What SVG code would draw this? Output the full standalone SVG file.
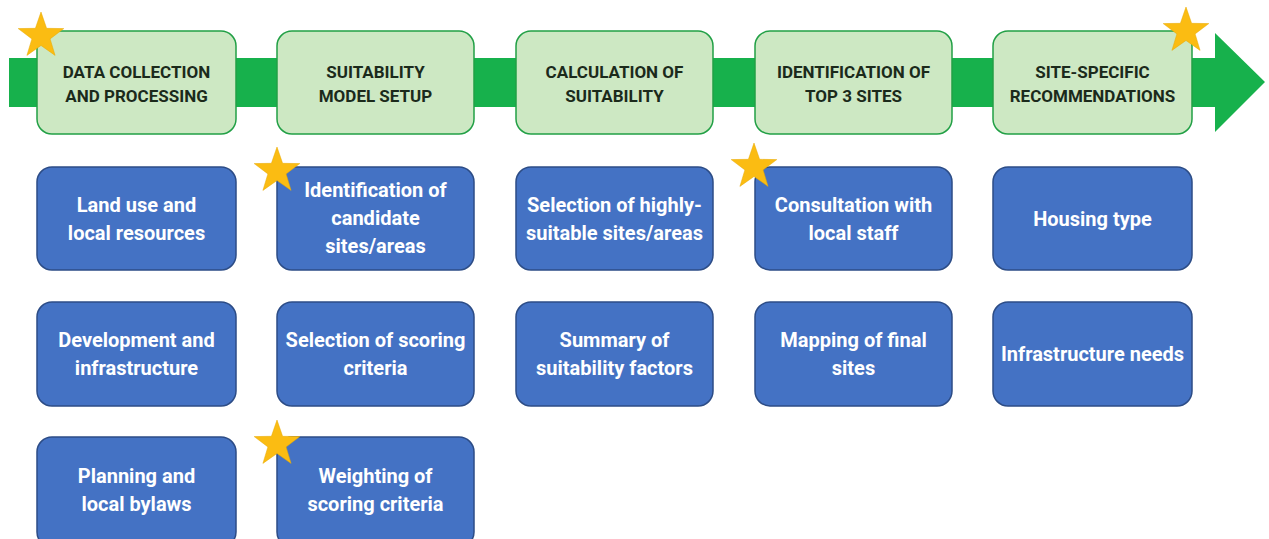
<svg xmlns="http://www.w3.org/2000/svg" width="1269" height="539" viewBox="0 0 1269 539">
<defs>
<style>
.hdr{fill:#cde8c3;stroke:#22a046;stroke-width:1.5}
.blu{fill:#4472c4;stroke:#2c4c86;stroke-width:1.5}
.ht{font-family:Roboto,"Liberation Sans",sans-serif;font-weight:700;font-size:17px;fill:#1b2a1b;text-anchor:middle}
.bt{font-family:Roboto,"Liberation Sans",sans-serif;font-weight:700;font-size:20px;fill:#ffffff;text-anchor:middle}
.star{fill:#fbbc12;stroke:#e6a800;stroke-width:0.5}
</style>
<polygon id="st" points="0,-24 5.6,-7.7 22.8,-7.4 9.1,2.9 14.1,19.4 0,9.5 -14.1,19.4 -9.1,2.9 -22.8,-7.4 -5.6,-7.7"/>
</defs>
<rect width="1269" height="539" fill="#ffffff"/>
<g id="connectors">
<polygon points="9,58 1215,58 1215,33 1265,82 1215,132 1215,107 9,107" fill="#17b14c"/>
</g>
<g id="h1"><rect class="hdr" x="37" y="31" width="199" height="103" rx="15"/><text class="ht" x="136.5" y="78">DATA COLLECTION</text><text class="ht" x="136.5" y="102">AND PROCESSING</text></g>
<g id="h2"><rect class="hdr" x="277" y="31" width="197" height="103" rx="15"/><text class="ht" x="375.5" y="78">SUITABILITY</text><text class="ht" x="375.5" y="102">MODEL SETUP</text></g>
<g id="h3"><rect class="hdr" x="516" y="31" width="197" height="103" rx="15"/><text class="ht" x="614.5" y="78">CALCULATION OF</text><text class="ht" x="614.5" y="102">SUITABILITY</text></g>
<g id="h4"><rect class="hdr" x="755" y="31" width="197" height="103" rx="15"/><text class="ht" x="853.5" y="78">IDENTIFICATION OF</text><text class="ht" x="853.5" y="102">TOP 3 SITES</text></g>
<g id="h5"><rect class="hdr" x="993" y="31" width="199" height="103" rx="15"/><text class="ht" x="1092.5" y="78">SITE-SPECIFIC</text><text class="ht" x="1092.5" y="102">RECOMMENDATIONS</text></g>

<g id="b11"><rect class="blu" x="37" y="167" width="199" height="103" rx="15"/><text class="bt" x="136.5" y="212">Land use and</text><text class="bt" x="136.5" y="240">local resources</text></g>
<g id="b12"><rect class="blu" x="37" y="302" width="199" height="104" rx="15"/><text class="bt" x="136.5" y="347">Development and</text><text class="bt" x="136.5" y="375">infrastructure</text></g>
<g id="b13"><rect class="blu" x="37" y="437" width="199" height="110" rx="15"/><text class="bt" x="136.5" y="483">Planning and</text><text class="bt" x="136.5" y="511">local bylaws</text></g>

<g id="b21"><rect class="blu" x="277" y="167" width="197" height="103" rx="15"/><text class="bt" x="375.5" y="197">Identification of</text><text class="bt" x="375.5" y="225">candidate</text><text class="bt" x="375.5" y="253">sites/areas</text></g>
<g id="b22"><rect class="blu" x="277" y="302" width="197" height="104" rx="15"/><text class="bt" x="375.5" y="347">Selection of scoring</text><text class="bt" x="375.5" y="375">criteria</text></g>
<g id="b23"><rect class="blu" x="277" y="437" width="197" height="110" rx="15"/><text class="bt" x="375.5" y="483">Weighting of</text><text class="bt" x="375.5" y="511">scoring criteria</text></g>

<g id="b31"><rect class="blu" x="516" y="167" width="197" height="103" rx="15"/><text class="bt" x="614.5" y="212">Selection of highly-</text><text class="bt" x="614.5" y="240">suitable sites/areas</text></g>
<g id="b32"><rect class="blu" x="516" y="302" width="197" height="104" rx="15"/><text class="bt" x="614.5" y="347">Summary of</text><text class="bt" x="614.5" y="375">suitability factors</text></g>

<g id="b41"><rect class="blu" x="755" y="167" width="197" height="103" rx="15"/><text class="bt" x="853.5" y="212">Consultation with</text><text class="bt" x="853.5" y="240">local staff</text></g>
<g id="b42"><rect class="blu" x="755" y="302" width="197" height="104" rx="15"/><text class="bt" x="853.5" y="347">Mapping of final</text><text class="bt" x="853.5" y="375">sites</text></g>

<g id="b51"><rect class="blu" x="993" y="167" width="199" height="103" rx="15"/><text class="bt" x="1092.5" y="226">Housing type</text></g>
<g id="b52"><rect class="blu" x="993" y="302" width="199" height="104" rx="15"/><text class="bt" x="1092.5" y="361">Infrastructure needs</text></g>

<g id="stars">
<use href="#st" class="star" x="41" y="36"/>
<use href="#st" class="star" x="1186" y="31"/>
<use href="#st" class="star" x="277" y="171"/>
<use href="#st" class="star" x="754" y="167"/>
<use href="#st" class="star" x="277" y="444"/>
</g>
</svg>
